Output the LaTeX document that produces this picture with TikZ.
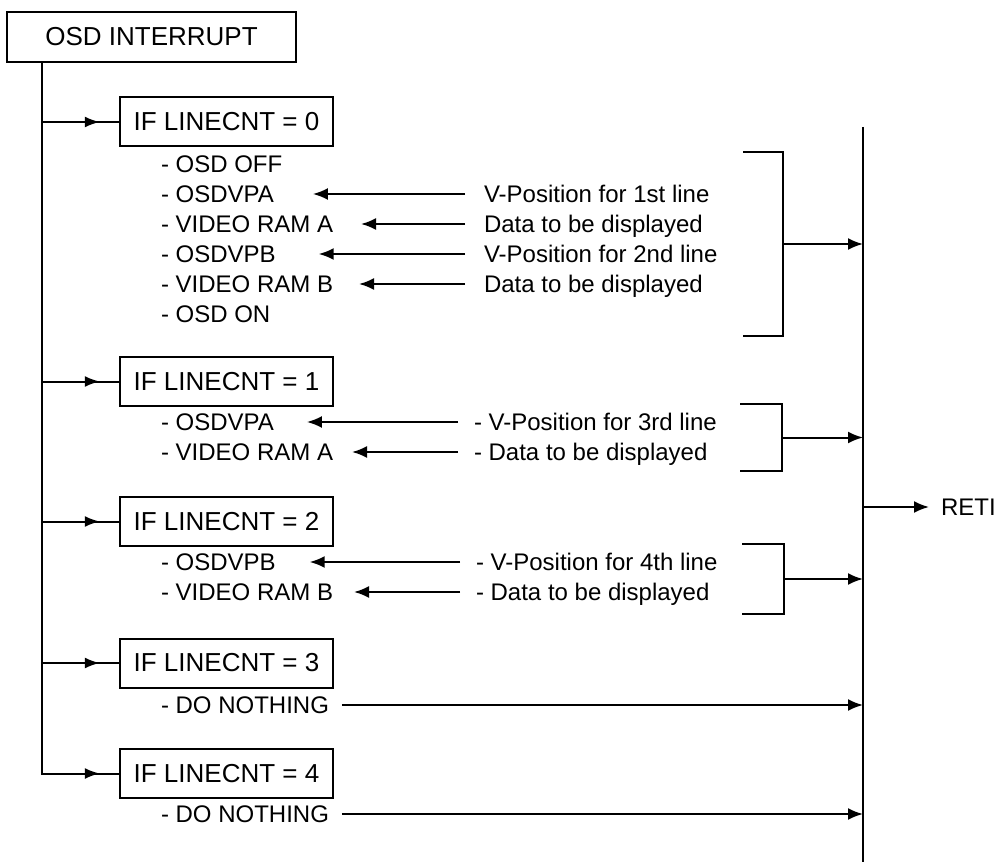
\documentclass[tikz,border=0pt]{standalone}
\usepackage{fontspec}
\setmainfont{Liberation Sans}
\usetikzlibrary{arrows.meta, positioning, decorations.markings}

\begin{document}
\begin{tikzpicture}[
    x=1pt, y=-1pt,
    line width=2pt,
    every node/.style={font=\fontsize{24}{29}\selectfont, inner sep=0pt},
    box/.style={draw, rectangle, minimum width=289pt, minimum height=50pt, font=\fontsize{26}{31}\selectfont},
    cbox/.style={draw, rectangle, minimum width=213pt, minimum height=49pt, font=\fontsize{26}{31}\selectfont},
    item/.style={anchor=west, text height=17pt, text depth=0pt},
    arrow/.style={-{Latex[length=15pt,width=12pt]}},
    midarrow/.style={postaction={decorate}, decoration={markings, mark=at position 0.75 with {\arrow{Latex[length=15pt,width=11pt]}}}}
]
\useasboundingbox (0,0) rectangle (998,866);

% interrupt entry and the five cases
\node[box] (osd) at (151.5,37) {OSD INTERRUPT};
\foreach \n/\y in {0/122,1/381.5,2/521.5,3/663,4/773.5}
  \node[cbox] (if\n) at (226.5,\y) {IF LINECNT = \n};

\coordinate (tend) at (42,775);
\draw (tend |- osd.south) -- (tend);
\foreach \n in {0,...,4}
  \draw[midarrow] (tend |- if\n.west) -- (if\n.west);

% return line
\coordinate (rtop) at (863,127);
\coordinate (rbot) at (863,862);
\draw (rtop) -- (rbot);
\node[item] (reti) at (940,507) {RETI};
\draw[arrow, shorten >=11pt] (rtop |- reti.west) -- (reti.west);

% case 0
\foreach \t [count=\i from 0] in {OSD OFF, OSDVPA, VIDEO RAM A, OSDVPB, VIDEO RAM B, OSD ON}
  \node[item] (a\i) at (160,{164+30*\i}) {- \t};
\node[item] (p1) at (483,194) {V-Position for 1st line};
\node[item] (p2) at (483,224) {Data to be displayed};
\node[item] (p3) at (483,254) {V-Position for 2nd line};
\node[item] (p4) at (483,284) {Data to be displayed};
\foreach \i/\g in {1/38,2/27,3/42,4/25}
  \draw[arrow, shorten <=18pt, shorten >=\g pt] (p\i.west) -- (a\i.east);

% case 1
\node[item] (b1) at (160,422) {- OSDVPA};
\node[item] (b2) at (160,452) {- VIDEO RAM A};
\node[item] (q1) at (473,422) {- V-Position for 3rd line};
\node[item] (q2) at (473,452) {- Data to be displayed};
\foreach \i/\g in {1/32,2/18}
  \draw[arrow, shorten <=15pt, shorten >=\g pt] (q\i.west) -- (b\i.east);

% case 2
\node[item] (c1) at (160,562) {- OSDVPB};
\node[item] (c2) at (160,592) {- VIDEO RAM B};
\node[item] (r1) at (475,562) {- V-Position for 4th line};
\node[item] (r2) at (475,592) {- Data to be displayed};
\foreach \i/\g in {1/33,2/20}
  \draw[arrow, shorten <=15pt, shorten >=\g pt] (r\i.west) -- (c\i.east);

% brackets into the return line
\foreach \n/\xa/\xb/\ya/\yb in {0/743/783/152/336,1/740/782/404/471,2/742/784/544/614}{
  \draw (\xa,\ya) -- (\xb,\ya) -- (\xb,\yb) -- (\xa,\yb);
  \coordinate (br\n) at (\xb,{(\ya+\yb)/2});
  \draw[arrow] (br\n) -- (br\n -| rtop);
}

% cases 3 and 4
\node[item] (d3) at (160,705) {- DO NOTHING};
\node[item] (d4) at (160,814) {- DO NOTHING};
\foreach \n in {3,4}
  \draw[arrow, shorten <=12pt] (d\n.east) -- (d\n.east -| rtop);
\end{tikzpicture}
\end{document}
